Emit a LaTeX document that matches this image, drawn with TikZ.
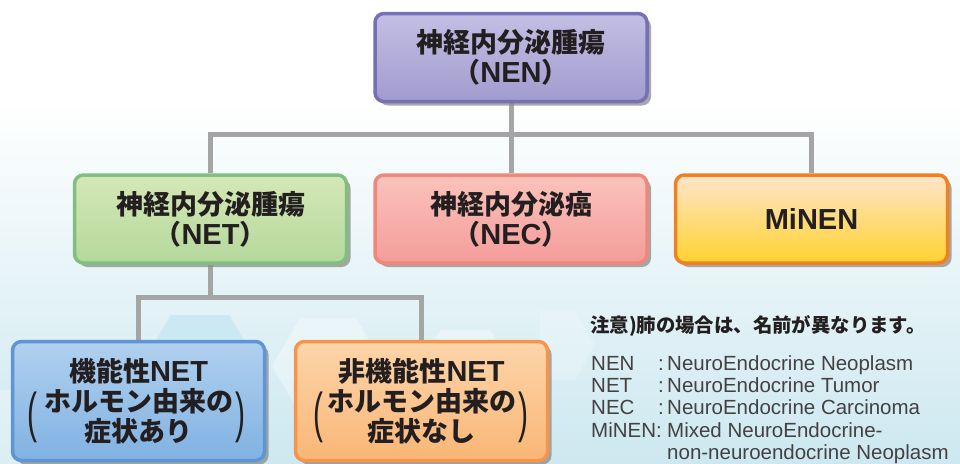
\documentclass[tikz,border=0pt]{standalone}
\usepackage{fontspec}
\setmainfont{Liberation Sans}
\newfontfamily\jp{Noto Sans CJK JP}
\usetikzlibrary{shadows}
\pgfdeclarelayer{background}
\pgfsetlayers{background,main}
\newcommand\lat[1]{{\rmfamily\bfseries\fontsize{29}{29}\selectfont #1}}
\definecolor{txt}{HTML}{231F20}
\definecolor{bgb}{HTML}{CDE8F0}
\definecolor{conc}{HTML}{A5A5A5}
\definecolor{nenB}{HTML}{7670B6}\definecolor{nenT}{HTML}{C3BFE3}\definecolor{nenD}{HTML}{A29BCF}
\definecolor{netB}{HTML}{80BF80}\definecolor{netT}{HTML}{D5E8B5}\definecolor{netD}{HTML}{B4D89C}
\definecolor{necB}{HTML}{F0877A}\definecolor{necT}{HTML}{FBC3BC}\definecolor{necD}{HTML}{F49C9A}
\definecolor{minB}{HTML}{F2801F}\definecolor{minT}{HTML}{FEE5CC}\definecolor{minM}{HTML}{FFE2BC}\definecolor{minD}{HTML}{FFD22E}
\definecolor{fnB}{HTML}{5E95D2}\definecolor{fnT}{HTML}{B1D0EF}\definecolor{fnD}{HTML}{80B2E2}
\definecolor{nfB}{HTML}{F7944C}\definecolor{nfT}{HTML}{FDD5AA}\definecolor{nfD}{HTML}{F9B676}
\definecolor{hexc}{HTML}{BFE5F1}
\begin{document}
\begin{tikzpicture}[x=1pt,y=-1pt,
  box/.style={draw, rounded corners=9pt, line width=3.5pt, inner sep=0pt, align=center,
    text=txt, font=\jp\bfseries\fontsize{27}{30}\selectfont,
    drop shadow={shadow xshift=4pt, shadow yshift=-4pt, fill=black!45, opacity=0.75}},
  topbox/.style={box, minimum width=272pt, minimum height=88pt},
  lowbox/.style={box, minimum width=252pt, minimum height=119pt},
  paren/.style={inner sep=0pt, text=txt, font=\fontsize{26}{26}\selectfont},
  conn/.style={draw=conc, line width=5pt, line join=miter},
  leg/.style={inner sep=0pt, anchor=base west, text=txt!85, font=\fontsize{20.5}{22}\selectfont},
  hexfill/.style={fill=hexc, opacity=0.6}
]
\useasboundingbox (0,0) rectangle (960,463);
\begin{pgfonlayer}{background}
  \fill[white] (0,0) rectangle (960,101);
  \shade[top color=white, bottom color=bgb] (0,100) rectangle (960,463);
  \fill[hexfill] (171,315) -- (229,315) -- (259,365) -- (229,415) -- (171,415) -- (141,365) -- cycle;
  \fill[white, opacity=0.35] (300,318) -- (356,318) -- (384,366) -- (356,414) -- (300,414) -- (272,366) -- cycle;
  \fill[white, opacity=0.3] (-20,390) -- (30,390) -- (55,433) -- (30,476) -- (-20,476) -- cycle;
  \fill[white, opacity=0.3] (440,330) -- (490,330) -- (515,373) -- (490,416) -- (440,416) -- (415,373) -- cycle;
  \fill[white, opacity=0.2] (540,310) -- (575,310) -- (595,345) -- (575,380) -- (540,380) -- cycle;
\end{pgfonlayer}

\node[topbox, draw=nenB, top color=nenT, bottom color=nenD] (nen) at (511,57.5) {神経内分泌腫瘍\\（\lat{NEN}）};
\node[topbox, draw=netB, top color=netT, bottom color=netD] (net) at (210.5,219) {神経内分泌腫瘍\\（\lat{NET}）};
\node[topbox, draw=necB, top color=necT, bottom color=necD] (nec) at (511,219) {神経内分泌癌\\（\lat{NEC}）};
\node[topbox, draw=minB, top color=minT, middle color=minM, bottom color=minD] (minen) at (811.5,219) {\lat{MiNEN}};

\node[lowbox, draw=fnB, top color=fnT, bottom color=fnD] (fn) at (138.5,401) {機能性\lat{NET}\\ホルモン由来の\\症状あり};
\node[lowbox, draw=nfB, top color=nfT, bottom color=nfD] (nf) at (421.5,401) {非機能性\lat{NET}\\ホルモン由来の\\症状なし};

\node[paren] (fnl) at (32,417) {\scalebox{1.15}[2.1]{(}};
\node[paren] (fnr) at (240,417) {\scalebox{1.15}[2.1]{)}};
\node[paren] (nfl) at (318,417) {\scalebox{1.15}[2.1]{(}};
\node[paren] (nfr) at (523,417) {\scalebox{1.15}[2.1]{)}};

\node[inner sep=0pt, anchor=base west, text=txt, font=\jp\bfseries\fontsize{19.4}{20}\selectfont] (note) at (590,332) {注意)肺の場合は、名前が異なります。};

\node[leg] (a1) at (591,370) {NEN};
\node[leg] (c1) at (658,370) {:};
\node[leg] (d1) at (667,370) {NeuroEndocrine Neoplasm};
\node[leg] (a2) at (591,392.4) {NET};
\node[leg] (c2) at (658,392.4) {:};
\node[leg] (d2) at (667,392.4) {NeuroEndocrine Tumor};
\node[leg] (a3) at (591,414.8) {NEC};
\node[leg] (c3) at (658,414.8) {:};
\node[leg] (d3) at (667,414.8) {NeuroEndocrine Carcinoma};
\node[leg] (a4) at (591,437.2) {MiNEN};
\node[leg] (c4) at (656,437.2) {:};
\node[leg] (d4) at (667,437.2) {Mixed NeuroEndocrine-};
\node[leg] (d5) at (667,459.6) {non-neuroendocrine Neoplasm};

\coordinate (j1) at (511,134);
\coordinate (j2) at (210.5,297);
\begin{pgfonlayer}{background}
  \draw[conn] (nen.south) -- (j1);
  \draw[conn] (net.north) |- (j1) -| (minen.north);
  \draw[conn] (j1) -- (nec.north);
  \draw[conn] (net.south) -- (j2);
  \draw[conn] (fn.north) |- (j2) -| (nf.north);
\end{pgfonlayer}
\end{tikzpicture}
\end{document}
